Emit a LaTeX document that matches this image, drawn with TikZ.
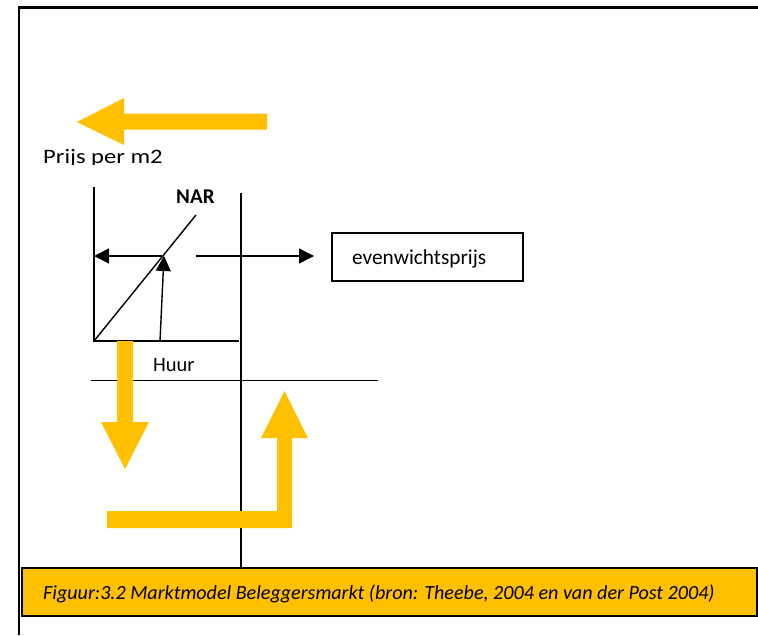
\documentclass[tikz,border=0pt]{standalone}
\usepackage{fontspec}
\setmainfont{Carlito}
\usetikzlibrary{arrows.meta}
\definecolor{gold}{HTML}{FFC000}
\tikzset{
  ln/.style={line width=1.4pt, black},
  arr/.style={ln, -{Triangle[length=15pt,width=15pt]}},
  yel/.style={fill=gold, draw=none},
  txt/.style={inner sep=0pt, anchor=base west, font=\fontsize{20.5}{24}\selectfont},
}
\begin{document}
\begin{tikzpicture}[x=1pt,y=-1pt]
\useasboundingbox (0,0) rectangle (758,635);
% frame
\coordinate (f1) at (19,635);
\coordinate (f2) at (19,7.5);
\coordinate (f3) at (758,7.5);
\draw[line width=2.4pt] (f1) -- (f2) -- (f3);
% top yellow arrow (left)
\fill[yel] (267,113.5) -- (124,113.5) -- (124,98) -- (77,122) -- (124,145) -- (124,129.5) -- (267,129.5) -- cycle;
% Prijs per m2 (clipped)
\begin{scope}
\clip (0,0) rectangle (758,164);
\node[txt, xscale=1.2] (prijs) at (43,163) {Prijs per m2};
\end{scope}
% axes
\coordinate (O) at (94,341);
\coordinate (Ytop) at (94,187);
\coordinate (Xend) at (239,341);
\coordinate (N) at (196,215);
\draw[ln] (Ytop) -- (O) -- (Xend);
\draw[ln] (O) -- (N);
\node[txt, font=\fontsize{21}{24}\selectfont\bfseries] (nar) at (176,203) {NAR};
% middle vertical line
\coordinate (M1) at (241,193);
\coordinate (M2) at (241,568);
\draw[ln] (M1) -- (M2);
% arrows
\coordinate (P) at (162,256);
\coordinate (Pl) at (94,256);
\coordinate (Hb) at (160,341);
\coordinate (Ht) at (164,256);
\coordinate (R1) at (196,256);
\coordinate (R2) at (314,256);
\draw[arr] (P) -- (Pl);
\draw[arr] (Hb) -- (Ht);
\draw[arr] (R1) -- (R2);
% evenwichtsprijs box
\draw[line width=1.4pt] (332,233) rectangle (523,281);
\node[txt, font=\fontsize{21.3}{24}\selectfont] (ev) at (352,264) {evenwichtsprijs};
% lower line
\coordinate (L1) at (91,380.5);
\coordinate (L2) at (378,380.5);
\draw[ln] (L1) -- (L2);
\node[txt] (huur) at (153,371) {Huur};
% yellow down arrow
\fill[yel] (117,341) -- (133,341) -- (133,422) -- (149,422) -- (125,469) -- (101,422) -- (117,422) -- cycle;
% yellow L arrow
\fill[yel] (107,511) -- (277,511) -- (277,438) -- (261,438) -- (284.5,391) -- (308,438) -- (292,438) -- (292,528) -- (107,528) -- cycle;
% caption
\draw[line width=1.4pt, fill=gold] (22,568) rectangle (757,616);
\node[txt, font=\fontsize{20.1}{24}\selectfont\itshape] (cap) at (43,599) {Figuur:3.2 Marktmodel Beleggersmarkt (bron: Theebe, 2004 en van der Post 2004)};
\end{tikzpicture}
\end{document}
